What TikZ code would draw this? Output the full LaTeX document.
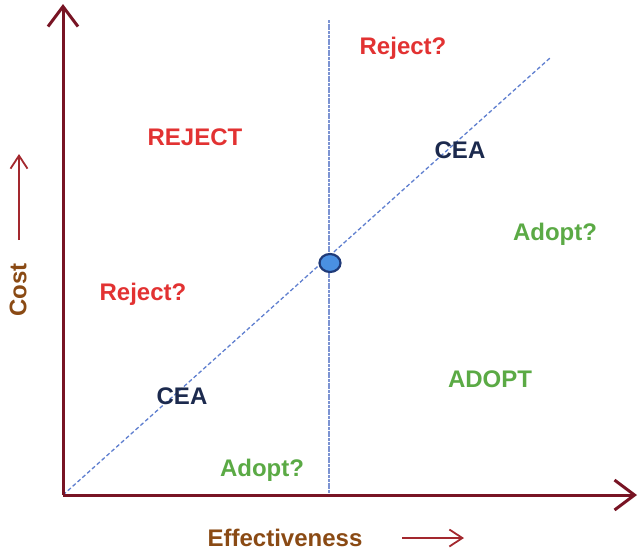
\documentclass[tikz,border=0pt]{standalone}
\usepackage{fontspec}
\setmainfont{Liberation Sans}
\usetikzlibrary{arrows.meta,shapes.geometric}
\definecolor{axiscol}{HTML}{781424}
\definecolor{hintcol}{HTML}{A3282E}
\definecolor{labelcol}{HTML}{8A4A14}
\definecolor{rejcol}{HTML}{E23232}
\definecolor{adpcol}{HTML}{5BAA45}
\definecolor{ceacol}{HTML}{1C2A4E}
\definecolor{linecol}{HTML}{5F7FCF}
\definecolor{vlinecol}{HTML}{7C93D2}
\definecolor{dotfill}{HTML}{4A90E2}
\definecolor{dotedge}{HTML}{1F3A78}
\begin{document}
\begin{tikzpicture}[x=1pt,y=-1pt,
  axis/.style={draw=axiscol,line width=3pt,-{Straight Barb[length=20pt,width=30pt,line width=3pt]}},
  hint/.style={draw=hintcol,line width=1.8pt,-{Straight Barb[length=13pt,width=17pt,line width=1.8pt]}},
  lbl/.style={font=\fontsize{24}{24}\selectfont\bfseries,inner sep=0pt},
  rej/.style={lbl,text=rejcol},
  adp/.style={lbl,text=adpcol},
  cea/.style={lbl,text=ceacol},
  axlabel/.style={lbl,text=labelcol}]
\useasboundingbox (0,0) rectangle (639,552);
% axes
\coordinate (O) at (63,495);
\coordinate (ytop) at (63,4);
\coordinate (xend) at (637,495);
\coordinate (vtop) at (329,20);
\coordinate (vbot) at (329,495);
\coordinate (dend) at (550,58);
% threshold line and CEA diagonal
\draw[vlinecol,line width=1.1pt,dash pattern=on 3pt off 0.7pt] (vtop) -- (vbot);
\draw[linecol,line width=1.3pt,dash pattern=on 4pt off 2.5pt] (O) -- (dend);
\draw[axis] (O) -- (ytop);
\draw[axis] (O) -- (xend);
% reference point
\node[ellipse,draw=dotedge,fill=dotfill,line width=2.2pt,minimum width=21pt,minimum height=18pt,inner sep=0pt] (pt) at (330,263) {};
% region labels
\node[rej] (rq1) at (403,48) {Reject?};
\node[rej] (rj) at (195,137) {REJECT};
\node[cea] (cea1) at (460,150) {CEA};
\node[adp] (aq1) at (555,234) {Adopt?};
\node[rej] (rq2) at (143,294) {Reject?};
\node[adp] (ad) at (490,379) {ADOPT};
\node[cea] (cea2) at (182,396) {CEA};
\node[adp] (aq2) at (262,470) {Adopt?};
% axis labels
\node[axlabel,rotate=90] (cost) at (18,290) {Cost};
\node[axlabel] (eff) at (285,538) {Effectiveness};
\coordinate (ch0) at (19,240);
\coordinate (ch1) at (19,154);
\draw[hint] (ch0) -- (ch1);
\coordinate (eh0) at (402,538);
\coordinate (eh1) at (464,538);
\draw[hint] (eh0) -- (eh1);
\end{tikzpicture}
\end{document}
